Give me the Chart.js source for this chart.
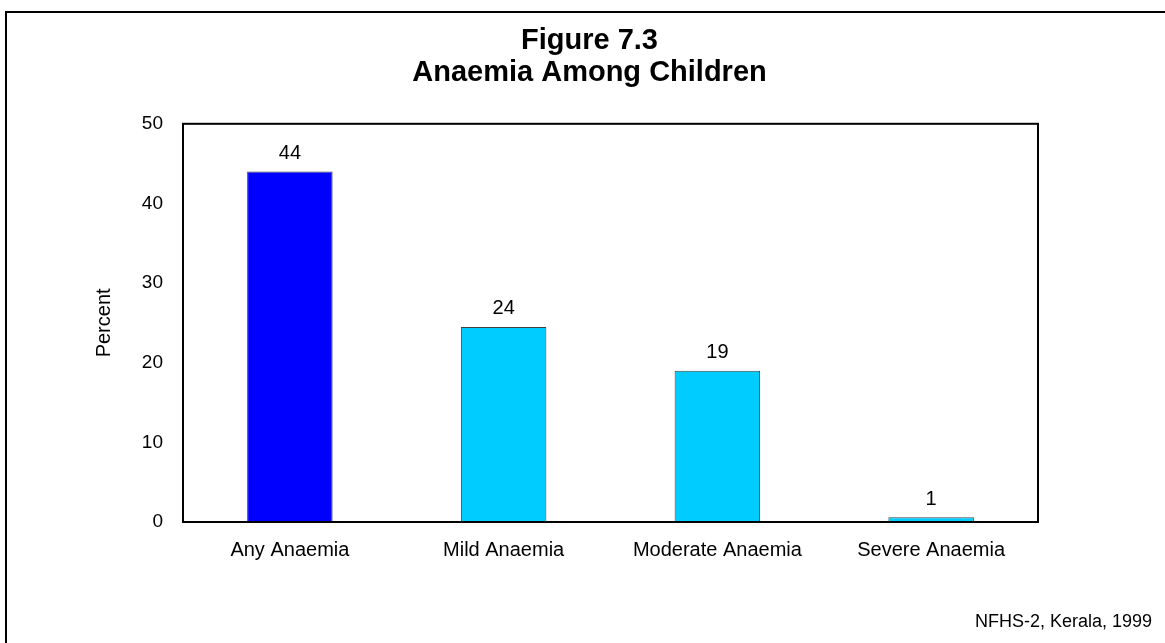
<!DOCTYPE html>
<html>
<head>
<meta charset="utf-8">
<title>Figure 7.3 Anaemia Among Children</title>
<script src="https://cdn.jsdelivr.net/npm/chart.js@4.4.1/dist/chart.umd.min.js"></script>
<style>
  html, body { margin: 0; padding: 0; background: #fff; }
  #wrap { width: 1165px; height: 643px; position: relative; }
</style>
</head>
<body>
<div id="wrap"><canvas id="myChart" width="1165" height="643"></canvas></div>
<script>
// data
const categories = ["Any Anaemia", "Mild Anaemia", "Moderate Anaemia", "Severe Anaemia"];
const percent = [44, 24.5, 19, 0.6];
const valueLabels = ["44", "24", "19", "1"];
const barColors = ["#0000ff", "#00ccff", "#00ccff", "#00ccff"];
const yTicks = [0, 10, 20, 30, 40, 50];
const footnote = "NFHS-2, Kerala, 1999";

const FONT = "'Liberation Sans', Arial, Helvetica, sans-serif";

// frame round the page, box round the plot, value labels and source note
const extras = {
  id: "extras",
  afterDraw(chart) {
    const ctx = chart.ctx;
    const a = chart.chartArea;
    ctx.save();
    ctx.fillStyle = "#000";
    ctx.fillRect(5, 11, 1160, 2);
    ctx.fillRect(5, 11, 2, 632);

    ctx.strokeStyle = "#000";
    ctx.lineWidth = 2;
    ctx.strokeRect(a.left, a.top, a.right - a.left, a.bottom - a.top);

    ctx.font = "20px " + FONT;
    ctx.textAlign = "center";
    ctx.textBaseline = "middle";
    chart.getDatasetMeta(0).data.forEach((bar, i) => {
      ctx.fillText(valueLabels[i], bar.x, bar.y - 18);
    });

    ctx.font = "18px " + FONT;
    ctx.textAlign = "right";
    ctx.fillText(footnote, 1152, 622);
    ctx.restore();
  }
};

let myChart = document.getElementById("myChart").getContext("2d");

let anaemiaChart = new Chart(myChart, {
  type: "bar",
  data: {
    labels: categories,
    datasets: [
      {
        label: "Percent",
        data: percent,
        backgroundColor: barColors,
        borderColor: "#404040",
        borderWidth: 1,
        categoryPercentage: 1,
        barPercentage: 0.4,
      },
    ],
  },
  options: {
    responsive: false,
    animation: false,
    layout: { padding: { left: 14, right: 0, top: 0, bottom: 0 } },
    plugins: {
      legend: { display: false },
      tooltip: { enabled: false },
      title: {
        display: true,
        text: ["Figure 7.3", "Anaemia Among Children"],
        color: "#000",
        font: { family: FONT, size: 29, weight: "bold", lineHeight: 1.1 },
        padding: { top: 25, bottom: 35 },
      },
    },
    scales: {
      x: {
        grid: { display: false, drawTicks: false },
        border: { display: true, color: "#000", width: 2 },
        ticks: { color: "#000", font: { family: FONT, size: 20 }, padding: 16, maxRotation: 0 },
        afterFit(scale) { scale.height = 121; },
      },
      y: {
        min: 0,
        max: 50,
        afterBuildTicks(scale) { scale.ticks = yTicks.map(v => ({ value: v })); },
        grid: { display: false, drawTicks: false },
        border: { display: true, color: "#000", width: 2 },
        ticks: { color: "#000", font: { family: FONT, size: 19 }, padding: 20 },
        title: {
          display: true,
          text: "Percent",
          color: "#000",
          font: { family: FONT, size: 20 },
          padding: { top: 78, bottom: 0 },
        },
        afterFit(scale) { scale.width = 169; },
      },
      // empty strip on the right so the plot ends where the original does
      yRight: {
        position: "right",
        display: true,
        grid: { display: false, drawTicks: false },
        border: { display: false },
        ticks: { display: false },
        afterFit(scale) { scale.width = 127; },
      },
    },
  },
  plugins: [extras],
});
</script>
</body>
</html>
